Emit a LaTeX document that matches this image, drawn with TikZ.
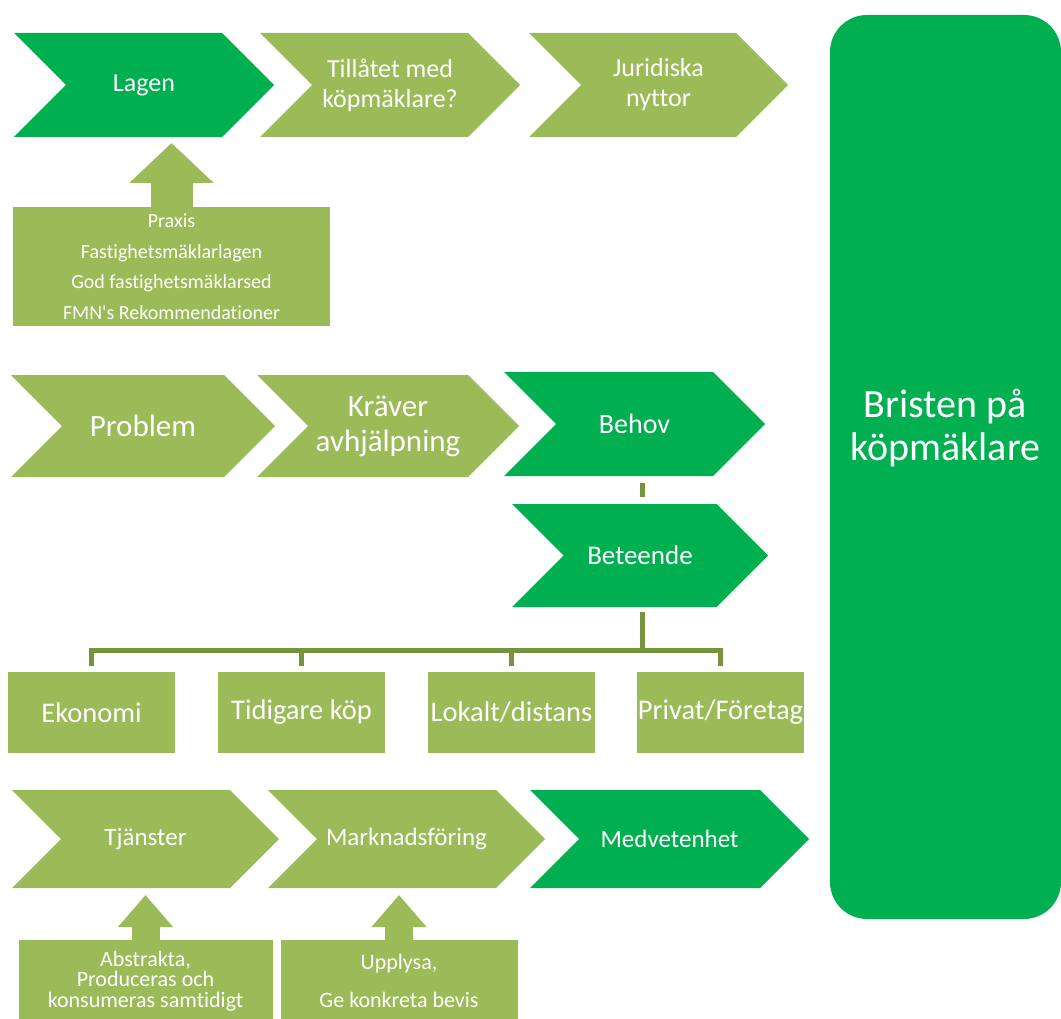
\documentclass[tikz,border=0pt]{standalone}
\usepackage{fontspec}
\setmainfont{Carlito}[Ligatures={TeXOff,NoCommon}]
\usetikzlibrary{arrows.meta,calc}
\definecolor{olivegreen}{HTML}{9BBB59}
\definecolor{brightgreen}{HTML}{00B050}
\definecolor{connolive}{HTML}{77933C}
\tikzset{
  chevtext/.style={text=white, align=center, inner sep=0pt},
  f25/.style={font=\fontsize{25}{29}\selectfont},
  f26/.style={font=\fontsize{26}{30}\selectfont},
  f27/.style={font=\fontsize{27}{31}\selectfont},
  f28/.style={font=\fontsize{28}{32}\selectfont},
  f31/.style={font=\fontsize{31}{35}\selectfont},
  obox/.style={fill=olivegreen, text=white, align=center, inner sep=0pt},
  catbox/.style={obox, minimum width=167pt, minimum height=81pt, font=\fontsize{28.5}{32}\selectfont},
  bigbox/.style={fill=brightgreen, rounded corners=37pt, inner sep=0pt},
  conn/.style={draw=connolive, line width=5pt},
  blockarrow/.style={draw=olivegreen, line width=42pt, -{Triangle[width=82pt,length=40pt]}},
  smallarrow/.style={draw=olivegreen, line width=28pt, -{Triangle[width=53pt,length=32pt]}}
}
% #1 name, #2 left, #3 tip, #4 top, #5 bottom, #6 colour, #7 font style, #8 text
\newcommand{\chevron}[8]{%
  \fill[#6] (#2,#4) -- ({#3-(#5-#4)/2},#4) -- (#3,{(#4+#5)/2}) -- ({#3-(#5-#4)/2},#5) -- (#2,#5) -- ({#2+(#5-#4)/2},{(#4+#5)/2}) -- cycle;
  \node[chevtext,#7] (#1) at ({(#2+#3)/2},{(#4+#5)/2}) {#8};
}
\begin{document}
\begin{tikzpicture}[x=1pt,y=-1pt]
\useasboundingbox (0,0) rectangle (1061,1019);

% big box
\node[bigbox, minimum width=231pt, minimum height=904pt] (bristen) at (945.5,467) {};
\node[text=white, align=center, inner sep=0pt, font=\fontsize{40}{43}\selectfont] (bristentext) at (945.5,428) {Bristen på\\köpmäklare};

% row 1
\chevron{lagen}{14}{274}{33}{137}{brightgreen}{f26}{Lagen}
\chevron{tillatet}{260}{520}{33}{137}{olivegreen}{f26}{Tillåtet med\\köpmäklare?}
\chevron{juridiska}{529}{788}{33}{137}{olivegreen}{f26}{Juridiska\\nyttor}

\node[obox, minimum width=317pt, minimum height=119pt, font=\fontsize{20}{30.5}\selectfont] (praxis) at (171.5,266.5)
  {Praxis\\Fastighetsmäklarlagen\\God fastighetsmäklarsed\\FMN's Rekommendationer};
\coordinate (lagentip) at (171.5,143);
\draw[blockarrow] (praxis.north) -- (praxis.north |- lagentip);

% row 2
\chevron{problem}{11}{275}{375}{477}{olivegreen}{f31}{Problem}
\chevron{kraver}{257}{519}{375}{477}{olivegreen}{f31}{Kräver\\avhjälpning}
\chevron{behov}{504}{765}{372}{476}{brightgreen}{f28}{Behov}
\chevron{beteende}{512}{768}{504}{607}{brightgreen}{f27}{Beteende}

\node[catbox] (ekonomi) at (91.5,712.5) {Ekonomi};
\node[catbox] (tidigare) at (301.5,712.5) {Tidigare köp};
\node[catbox] (lokalt) at (511.5,712.5) {Lokalt/distans};
\node[catbox] (privat) at (720.5,712.5) {Privat/Företag};

\coordinate (behovB) at (642,476);
\coordinate (beteT) at (642,504);
\coordinate (beteB) at (642,607);
\coordinate (bar) at (642,650);
\draw[conn, shorten <=7pt, shorten >=7pt] (behovB) -- (beteT);
\draw[conn, shorten <=5pt] (beteB) -- (bar);
\draw[conn, shorten >=6pt] (bar) -| (ekonomi.north);
\draw[conn, shorten >=6pt] (bar) -| (tidigare.north);
\draw[conn, shorten >=6pt] (bar) -| (lokalt.north);
\draw[conn, shorten >=6pt] (bar) -| (privat.north);

% row 3
\chevron{tjanster}{12}{279}{790}{888}{olivegreen}{f25}{Tjänster}
\chevron{marknad}{268}{545}{790}{888}{olivegreen}{f25}{Marknadsföring}
\chevron{medvetenhet}{530}{809}{790}{888}{brightgreen}{f25}{Medvetenhet}

\node[obox, minimum width=254pt, minimum height=82pt, font=\fontsize{22}{20.5}\selectfont] (abstrakta) at (145.5,981)
  {Abstrakta,\\Produceras och\\konsumeras samtidigt};
\node[obox, minimum width=237pt, minimum height=82pt, font=\fontsize{22}{24}\selectfont] (upplysa) at (399,981)
  {Upplysa,\\[14pt]Ge konkreta bevis};
\coordinate (tjtip) at (145.5,895);
\coordinate (mftip) at (399,895);
\draw[smallarrow] (abstrakta.north) -- (abstrakta.north |- tjtip);
\draw[smallarrow] (upplysa.north) -- (upplysa.north |- mftip);
\end{tikzpicture}
\end{document}
